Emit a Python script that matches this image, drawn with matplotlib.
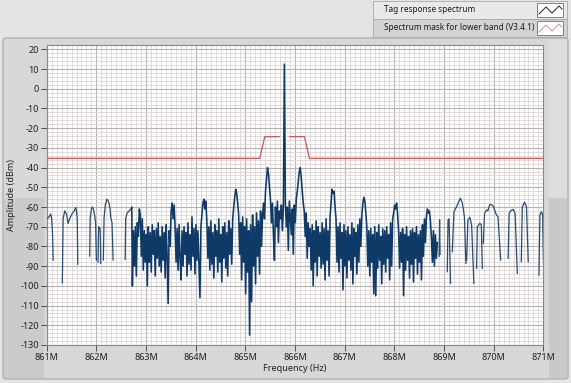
import numpy as np
import matplotlib
matplotlib.use("Agg")
import matplotlib.pyplot as plt
from matplotlib.patches import Rectangle, FancyBboxPatch
from matplotlib.lines import Line2D
from matplotlib.ticker import MultipleLocator, FixedLocator

plt.rcParams['font.family'] = ['Noto Sans', 'DejaVu Sans']

# ---------------- data ----------------
x_ticks = [861, 862, 863, 864, 865, 866, 867, 868, 869, 870, 871]
x_tick_labels = ["861M", "862M", "863M", "864M", "865M", "866M",
                 "867M", "868M", "869M", "870M", "871M"]
y_ticks = [20, 10, 0, -10, -20, -30, -40, -50, -60, -70, -80, -90,
           -100, -110, -120, -130]

series_names = ["Tag response spectrum", "Spectrum mask for lower band (V3.4.1)"]

# sparse segments on the left (MHz, dBm)
left_f = [861.00, 861.03, 861.06, 861.08, 861.10, 861.12, 861.13, np.nan,
          861.315, 861.33, 861.363, 861.40, 861.43, 861.46, 861.48, 861.52,
          861.555, 861.585, 861.60, 861.615, 861.625, np.nan,
          861.866, 861.875, 861.90, 861.92, 861.945, 861.967, 861.985, 862.0, np.nan,
          862.034, 862.041, 862.048, 862.062, 862.075, 862.082, 862.088, np.nan,
          862.14, 862.155, 862.18, 862.209, 862.23, 862.256, 862.275, 862.29,
          862.315, 862.337, np.nan,
          862.58, 862.59, 862.62, 862.66, 862.69, 862.713]
left_a = [-66, -65.5, -64.5, -63.5, -66, -75, -87, np.nan,
          -98.4, -66, -62, -63.5, -68.3, -66, -65, -63,
          -62, -60.2, -62, -66, -89, np.nan,
          -84.9, -66, -61, -60, -61.5, -64.5, -68, -86.9, np.nan,
          -88, -75, -70, -70.5, -71, -78, -88.6, np.nan,
          -86.9, -65.4, -59, -56.1, -56.5, -58.2, -61, -65.4,
          -68, -86.9, np.nan,
          -86.6, -66, -63, -62, -61, -60.2]

# dense part sampled every 0.02 MHz from 862.725 MHz
dense_start = 862.725
dense_step = 0.02
dense_a = [
    -100, -72, -90, -70, -95, -68, -75, -61, -64, -85, -66, -92, -72, -88,
    -74, -100, -70, -88, -73, -93, -69, -84, -72, -95, -71, -86, -68, -90,
    -75, -93, -70, -87, -73, -96, -69, -85, -109, -72, -80,
    -62, -58, -66, -59, -70,
    -88, -71, -92, -69, -86, -97, -72, -90, -70, -84, -73, -95, -68, -89,
    -74, -92, -65, -85, -71, -94, -69, -87, -72, -90, -106, -70,
    -64, -58, -56, -61, -57, -68,
    -86, -70, -92, -67, -89, -73, -96, -69, -85, -72, -93, -66, -88, -74,
    -98, -70, -86, -68, -91, -73, -95, -67, -84, -71, -89, -66,
    -60, -55, -51, -53, -58, -64,
    -84, -68, -97, -65, -88, -70, -104, -66, -93, -72, -125, -69, -108, -64,
    -90, -70, -99, -63, -85, -67, -94, -62, -80, -64,
    -58, -66, -52, -46, -40, -43, -50, -56,
    -68, -58, -74, -87, -60, -70, -57, -78, -62, -66, -59, -72, -60,
    12.5,
    -58, -70, -60, -82, -57, -66, -74, -61, -84, -59, -68, -56,
    -52, -47, -42, -40, -45, -52, -58,
    -62, -75, -63, -86, -68, -80, -71, -92, -69, -100, -72, -88, -67, -95,
    -70, -85, -73, -91, -68, -89, -71, -97, -66, -87, -72, -95, -65,
    -58, -51, -53, -52, -60, -66,
    -88, -70, -93, -68, -86, -73, -102, -69, -90, -72, -96, -70, -87, -74,
    -92, -68, -99, -71, -85, -73, -94, -69, -88, -66, -80,
    -64, -58, -55, -57, -63, -70,
    -90, -72, -95, -71, -88, -74, -104, -70, -105, -73, -91, -69, -87, -75,
    -99, -71, -89, -72, -93, -70, -86, -74, -97, -68, -90, -66,
    -63, -59, -61, -58, -64, -72,
    -91, -73, -88, -71, -105, -74, -92, -70, -87, -75, -96, -72, -89, -71,
    -98, -73, -86, -70, -94, -74, -88, -72, -97, -69, -85, -66, -78,
    -65, -61, -63, -62, -67, -75,
    -88, -72, -90, -74, -86, -78,
]

# sparse segments on the right (MHz, dBm)
right_f = [868.90, 868.91, 868.92, np.nan,
           869.065, 869.08, 869.10, 869.13, np.nan,
           869.165, 869.20, 869.25, 869.30, 869.33, 869.37, 869.41, 869.44, np.nan,
           869.455, 869.48, 869.52, 869.555, 869.60, np.nan,
           869.655, 869.67, 869.72, 869.75, 869.77, np.nan,
           869.79, 869.815, 869.855, 869.88, 869.92, 869.97, 870.0, 870.04,
           870.085, 870.14, np.nan,
           870.29, 870.31, 870.34, 870.39, 870.43, 870.475, np.nan,
           870.555, 870.575, 870.62, 870.66, 870.695, np.nan,
           870.91, 870.93, 870.96, 870.985, 871.0]
right_a = [-85, -66.5, -84, np.nan,
           -92.8, -66.6, -66, -98.7, np.nan,
           -82.7, -62.4, -59.9, -57, -55.6, -58.1, -65, -88.6, np.nan,
           -86.9, -66.6, -65.2, -69.1, -98.7, np.nan,
           -91.1, -70, -68.3, -69, -91.1, np.nan,
           -78.4, -63.2, -61.5, -62, -58.7, -59, -60, -63.2,
           -65, -86.9, np.nan,
           -86, -63.2, -62, -61.2, -63.2, -93.7, np.nan,
           -87.7, -59.9, -57.6, -59.9, -87.7, np.nan,
           -94.5, -64, -62.4, -64, -87]

# spectrum mask
mask_f = [861, 865.29, 865.39, 865.68, np.nan, 865.89, 866.19, 866.29, 871]
mask_a = [-35.3, -35.3, -24.3, -24.3, np.nan, -24.3, -24.3, -35.3, -35.3]

# ---------------- figure ----------------
W, H = 571, 383
fig = plt.figure(figsize=(W / 100, H / 100), dpi=100, facecolor='#e4e4e4')


def fr(x0, y0, w, h):
    return (x0 / W, 1 - (y0 + h) / H, w / W, h / H)


# graph panel
bx = fr(3, 38, 565, 341)
panel = FancyBboxPatch((bx[0], bx[1]), bx[2], bx[3],
                       boxstyle="round,pad=0,rounding_size=0.006",
                       transform=fig.transFigure, facecolor='#d8d8d8',
                       edgecolor='#a6a6a6', linewidth=0.8, zorder=-3)
fig.patches.append(panel)
for (x0, y0, w, h, c) in [(4, 198, 40, 180, '#cbcbcb'),
                          (549, 40, 18, 158, '#dedede'),
                          (549, 198, 18, 180, '#c9c9c9')]:
    r = fr(x0, y0, w, h)
    fig.patches.append(Rectangle((r[0], r[1]), r[2], r[3], transform=fig.transFigure,
                                 facecolor=c, edgecolor='none', zorder=-2))

# legend box
for (y0, c) in [(1, '#e9e9e9'), (19, '#d3d3d3')]:
    r = fr(373, y0, 194, 18)
    fig.patches.append(Rectangle((r[0], r[1]), r[2], r[3], transform=fig.transFigure,
                                 facecolor=c, edgecolor='#a8a8a8', linewidth=0.6, zorder=1))
icon_colors = ['#202020', '#d89090']
for k, (y0, name) in enumerate([(1, series_names[0]), (19, series_names[1])]):
    fig.text(384 / W, 1 - (y0 + 9) / H, name, fontsize=5.9, color='#1a1a1a',
             va='center', ha='left', zorder=3)
    r = fr(537, y0 + 2.5, 26, 13)
    fig.patches.append(Rectangle((r[0], r[1]), r[2], r[3], transform=fig.transFigure,
                                 facecolor='white', edgecolor='#707070', linewidth=0.6, zorder=2))
    zx = [539, 546, 552, 559, 562]
    zy = [y0 + 13, y0 + 6, y0 + 12, y0 + 5, y0 + 8]
    fig.lines.append(Line2D([v / W for v in zx], [1 - v / H for v in zy],
                            transform=fig.transFigure, color=icon_colors[k],
                            linewidth=0.7, zorder=3))

# axes
ax_left, ax_right = 46.7, 543.4
ax_top, ax_bottom = 45.4, 345.0
ax = fig.add_axes([ax_left / W, 1 - ax_bottom / H, (ax_right - ax_left) / W,
                   (ax_bottom - ax_top) / H])
ax.set_zorder(5)
ax.set_facecolor('white')
ax.set_xlim(861, 871)
ax.set_ylim(-130, 22)

ax.xaxis.set_major_locator(FixedLocator(x_ticks))
ax.set_xticklabels(x_tick_labels)
ax.yaxis.set_major_locator(FixedLocator(y_ticks))
ax.set_yticklabels([str(v) for v in y_ticks])
ax.xaxis.set_minor_locator(MultipleLocator(0.1))
ax.yaxis.set_minor_locator(MultipleLocator(2))
ax.grid(which='minor', color='#ddd4d4', linewidth=0.6)
ax.grid(which='major', color='#b4b4b4', linewidth=0.8)
ax.set_axisbelow(True)
ax.tick_params(which='major', length=4, width=0.7, color='#505050',
               labelsize=6.5, labelcolor='#202020', pad=1.5)
ax.tick_params(which='minor', length=0)
for s in ax.spines.values():
    s.set_color('#8a8a8a')
    s.set_linewidth(0.8)

ax.set_xlabel("Frequency (Hz)", fontsize=6.5, color='#202020', labelpad=1.5)
ax.set_ylabel("Amplitude (dBm)", fontsize=6.5, color='#202020', labelpad=3)

# trace
dense_f = [dense_start + dense_step * i for i in range(len(dense_a))]
trace_f = list(left_f) + [np.nan] + list(right_f)
trace_a = list(left_a) + [np.nan] + list(right_a)
ax.plot(trace_f, trace_a, color='#2a4a6e', linewidth=0.9, zorder=3)
ax.plot([left_f[-1]] + dense_f, [left_a[-1]] + dense_a, color='#0f3967',
        linewidth=1.15, zorder=3)
ax.plot(mask_f, mask_a, color='#c25a58', linewidth=0.9, zorder=2)

fig.savefig("out.png", dpi=100, facecolor=fig.get_facecolor())
